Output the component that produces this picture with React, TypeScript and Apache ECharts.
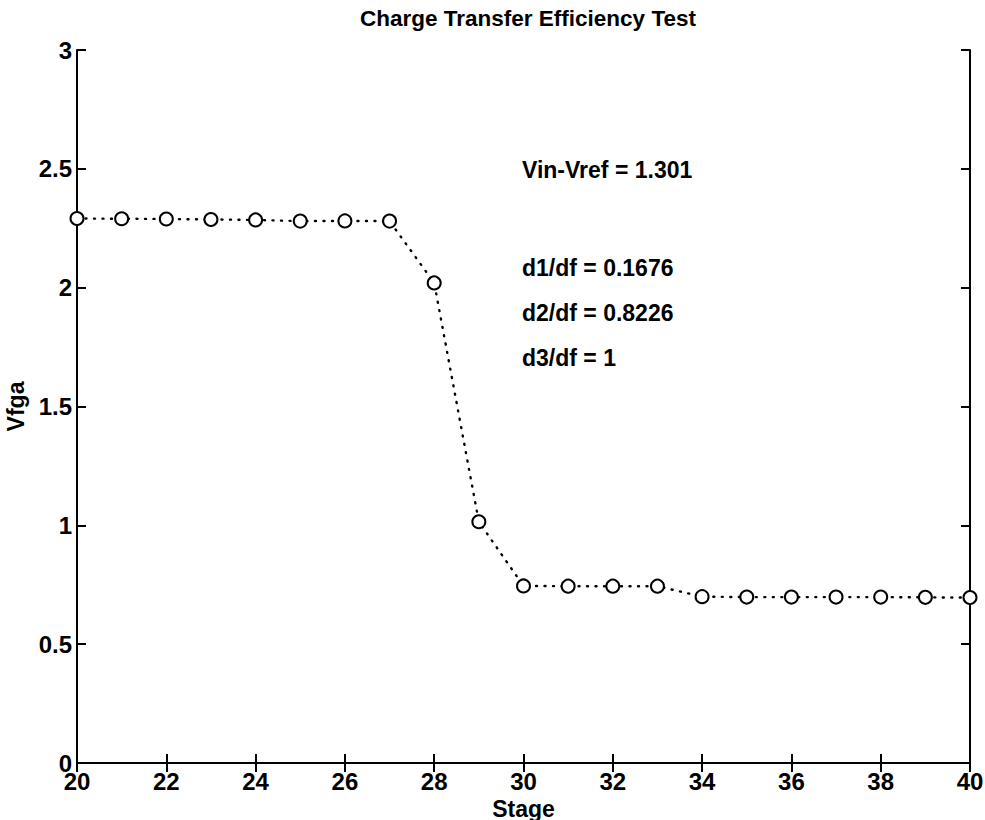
import React, { useEffect, useRef } from "react";
import * as echarts from "echarts";

const stages = [20, 21, 22, 23, 24, 25, 26, 27, 28, 29, 30, 31, 32, 33, 34, 35, 36, 37, 38, 39, 40];
const vfga = [2.291, 2.290, 2.289, 2.287, 2.285, 2.280, 2.281, 2.280, 2.02, 1.015, 0.745, 0.744, 0.744, 0.744, 0.700, 0.698, 0.698, 0.698, 0.698, 0.697, 0.696];
const xTicks = [20, 22, 24, 26, 28, 30, 32, 34, 36, 38, 40];
const yTicks = [0, 0.5, 1, 1.5, 2, 2.5, 3];
const titleText = "Charge Transfer Efficiency Test";
const xName = "Stage";
const yName = "Vfga";
const notes = ["Vin-Vref = 1.301", "d1/df = 0.1676", "d2/df = 0.8226", "d3/df = 1"];

const FONT = "'Liberation Sans', Arial, Helvetica, sans-serif";

export default function App() {
  const ref = useRef<HTMLDivElement>(null);
  useEffect(() => {
    if (!ref.current) return;
    const chart = echarts.init(ref.current, null, { renderer: "svg" });
    const axisCommon = {
      axisLine: { show: true, lineStyle: { color: "#000", width: 2 } },
      axisTick: { show: true, inside: true, length: 9, lineStyle: { color: "#000", width: 2 } },
      splitLine: { show: false },
    };
    const noteY = [170, 268, 313, 358];
    chart.setOption({
      animation: false,
      backgroundColor: "#fff",
      title: {
        text: titleText,
        left: 523,
        textAlign: "center",
        top: 2,
        textStyle: { fontFamily: FONT, fontSize: 22.5, fontWeight: "bold", color: "#000" },
      },
      grid: { left: 77, right: 15, top: 50, bottom: 57, containLabel: false, outerBoundsMode: "none" },
      xAxis: [
        {
          type: "value",
          min: 20,
          max: 40,
          interval: 2,
          ...axisCommon,
          axisLabel: {
            show: true,
            color: "#000",
            fontFamily: FONT,
            fontSize: 24,
            fontWeight: "bold",
            margin: 6,
            customValues: xTicks,
          },
          axisTick: { ...axisCommon.axisTick, customValues: xTicks },
          name: xName,
          nameLocation: "middle",
          nameGap: 31,
          nameTextStyle: { fontFamily: FONT, fontSize: 23, fontWeight: "bold", color: "#000" },
        },
        {
          type: "value",
          position: "top",
          min: 20,
          max: 40,
          interval: 2,
          ...axisCommon,
          axisLabel: { show: false },
        },
      ],
      yAxis: [
        {
          type: "value",
          min: 0,
          max: 3,
          interval: 0.5,
          ...axisCommon,
          axisLabel: {
            show: true,
            color: "#000",
            fontFamily: FONT,
            fontSize: 24,
            fontWeight: "bold",
            margin: 5,
            customValues: yTicks,
          },
          name: yName,
          nameLocation: "middle",
          nameGap: 49,
          nameRotate: 90,
          nameTextStyle: { fontFamily: FONT, fontSize: 23, fontWeight: "bold", color: "#000" },
        },
        {
          type: "value",
          position: "right",
          min: 0,
          max: 3,
          interval: 0.5,
          ...axisCommon,
          axisLabel: { show: false },
        },
      ],
      series: [
        {
          type: "line",
          data: stages.map((s, i) => [s, vfga[i]]),
          symbol: "emptyCircle",
          symbolSize: 13,
          showAllSymbol: true,
          itemStyle: { color: "#000", borderColor: "#000", borderWidth: 2 },
          lineStyle: { color: "#000", width: 2.4, type: [1, 7.5], cap: "round" },
          clip: false,
        },
      ],
      graphic: notes.map((t, i) => ({
        type: "text",
        x: 522,
        y: noteY[i],
        style: {
          text: t,
          fill: "#000",
          font: `bold 23px ${FONT}`,
          textVerticalAlign: "middle",
          verticalAlign: "middle",
        },
      })),
    });
    return () => chart.dispose();
  }, []);
  return <div ref={ref} style={{ width: 985, height: 820, position: "absolute", left: 0, top: 0 }} />;
}
